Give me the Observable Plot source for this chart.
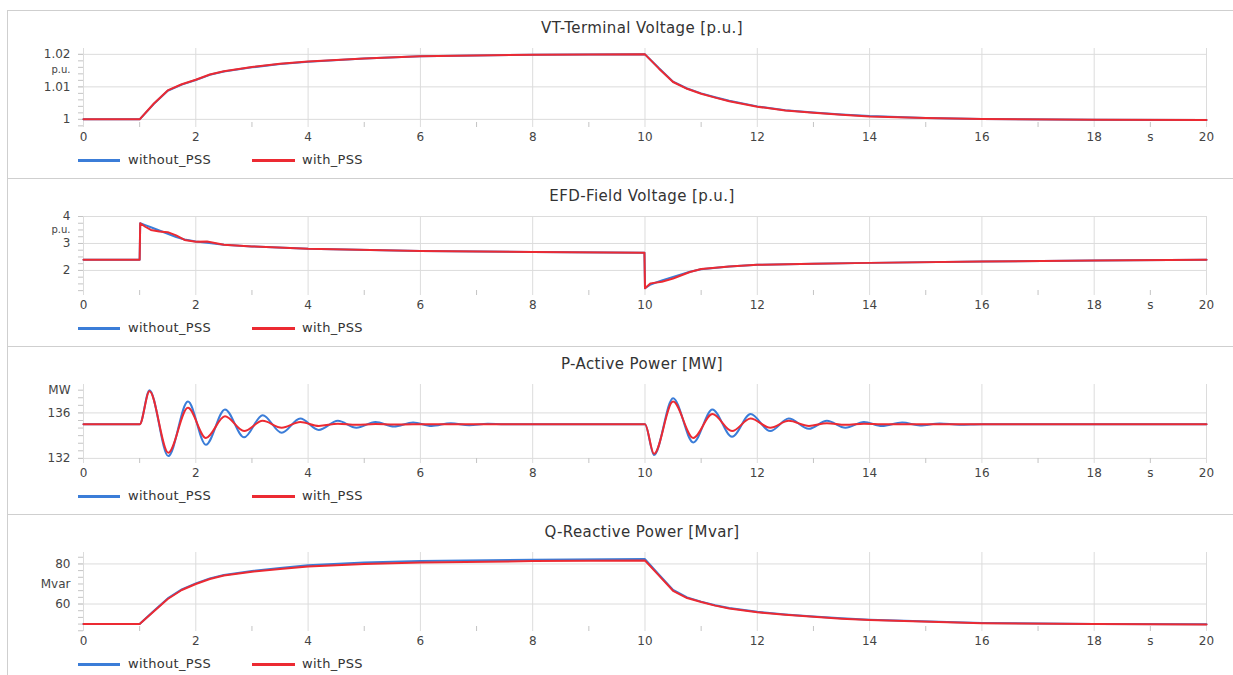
<!DOCTYPE html>
<html><head><meta charset="utf-8">
<script src="https://cdn.jsdelivr.net/npm/d3@7"></script>
<script src="https://cdn.jsdelivr.net/npm/@observablehq/plot@0.6"></script>
<style>
body{margin:0;background:#fff;font-family:"DejaVu Sans",Verdana,sans-serif;}
#root{position:relative;width:1233px;height:675px;overflow:hidden;background:#fff;}
.panel{position:absolute;left:7px;width:1226px;height:167px;border-top:1px solid #cfcfcf;border-left:1px solid #cfcfcf;}
.title{position:absolute;left:392px;width:500px;text-align:center;font-size:15px;letter-spacing:0.4px;line-height:18px;color:#333;}
.leg-line{position:absolute;height:3px;}
.leg-text{position:absolute;font-size:13px;letter-spacing:0.3px;line-height:16px;color:#333;}
.chart{position:absolute;left:0;}
.chart svg{overflow:visible;}
</style>
</head><body><div id="root"></div>
<script>
// ---------- data ----------
const seriesNames = ["without_PSS", "with_PSS"];
const seriesColors = ["#3b7dd8", "#ec2a32"];

const xGridTicks = [0, 2, 4, 6, 8, 10, 12, 14, 16, 18, 20];
const xMinorTicks = [1, 3, 5, 7, 9, 11, 13, 15, 17, 19];
const xLabelPos = [0, 2, 4, 6, 8, 10, 12, 14, 16, 18, 19, 20];
const xLabelText = ["0", "2", "4", "6", "8", "10", "12", "14", "16", "18", "s", "20"];

// VT - terminal voltage [p.u.]
const vtTime    = [0, 1, 1.25, 1.5, 1.75, 2, 2.25, 2.5, 3, 3.5, 4, 5, 6, 8, 10, 10.25, 10.5, 10.75, 11, 11.25, 11.5, 12, 12.5, 13, 13.5, 14, 15, 16, 18, 20];
const vtWithout = [1.0, 1.0, 1.0047, 1.0088, 1.0107, 1.0121, 1.0137, 1.0147, 1.0160, 1.0170, 1.0177, 1.0187, 1.0194, 1.0199, 1.0200, 1.0157, 1.0116, 1.0095, 1.0080, 1.0068, 1.0057, 1.0040, 1.0028, 1.0021, 1.0015, 1.0010, 1.0004, 1.0001, 0.99985, 0.9998];
const vtWith    = [1.0, 1.0, 1.0048, 1.0089, 1.0108, 1.0122, 1.0138, 1.0148, 1.0161, 1.0171, 1.0178, 1.0187, 1.0194, 1.0199, 1.0200, 1.0156, 1.0115, 1.0094, 1.0079, 1.0067, 1.0056, 1.0039, 1.0027, 1.0020, 1.0014, 1.0009, 1.0004, 1.0001, 0.99985, 0.9998];
const vtTicks = [1, 1.01, 1.02];

// EFD - field voltage [p.u.]
const efdTime    = [0, 1, 1.01, 1.1, 1.2, 1.35, 1.5, 1.65, 1.8, 2, 2.2, 2.5, 3, 4, 6, 8, 9.99, 10.0, 10.1, 10.3, 10.5, 10.8, 11, 11.5, 12, 13, 14, 16, 18, 20];
const efdWithout = [2.4, 2.4, 3.75, 3.68, 3.6, 3.48, 3.36, 3.24, 3.15, 3.07, 3.03, 2.95, 2.89, 2.80, 2.72, 2.68, 2.66, 1.34, 1.48, 1.63, 1.76, 1.95, 2.04, 2.15, 2.21, 2.25, 2.28, 2.33, 2.37, 2.40];
const efdWith    = [2.4, 2.4, 3.75, 3.62, 3.50, 3.44, 3.42, 3.30, 3.13, 3.06, 3.07, 2.95, 2.89, 2.80, 2.72, 2.68, 2.66, 1.34, 1.52, 1.58, 1.70, 1.94, 2.05, 2.15, 2.21, 2.25, 2.28, 2.33, 2.37, 2.40];
const efdTicks = [2, 3, 4];

// P - active power [MW]
const pTime    = [0, 1.0, 1.175, 1.51, 1.86, 2.18, 2.52, 2.86, 3.19, 3.53, 3.86, 4.19, 4.53, 4.86, 5.2, 5.53, 5.87, 6.2, 6.54, 6.87, 7.2, 7.5, 8, 10.0, 10.16, 10.5, 10.86, 11.2, 11.55, 11.88, 12.23, 12.56, 12.92, 13.24, 13.57, 13.9, 14.22, 14.58, 14.9, 15.25, 15.6, 16, 20];
const pWithout = [135, 135, 138.0, 132.2, 137.0, 133.2, 136.3, 133.85, 135.8, 134.25, 135.5, 134.5, 135.3, 134.7, 135.2, 134.8, 135.15, 134.85, 135.1, 134.92, 135.05, 135, 135, 135, 132.3, 137.3, 133.4, 136.3, 133.9, 135.9, 134.4, 135.5, 134.6, 135.3, 134.7, 135.2, 134.85, 135.15, 134.9, 135.08, 134.95, 135, 135];
const pWith    = [135, 135, 137.9, 132.5, 136.45, 133.8, 135.7, 134.4, 135.3, 134.7, 135.2, 134.85, 135.05, 134.95, 135.02, 134.98, 135, 135, 135, 135, 135, 135, 135, 135, 132.4, 137.0, 133.8, 135.9, 134.4, 135.5, 134.7, 135.3, 134.85, 135.1, 134.95, 135.05, 135, 135, 135, 135, 135, 135, 135];
const pTicks = [132, 136];

// Q - reactive power [Mvar]
const qTime    = [0, 1, 1.25, 1.5, 1.75, 2, 2.25, 2.5, 3, 3.5, 4, 5, 6, 8, 10, 10.25, 10.5, 10.75, 11, 11.25, 11.5, 12, 12.5, 13, 13.5, 14, 16, 18, 20];
const qWithout = [50, 50, 56.5, 62.8, 67.3, 70.3, 72.8, 74.5, 76.5, 78.0, 79.3, 80.7, 81.4, 82.1, 82.4, 74.6, 67.0, 63.3, 61.2, 59.4, 58.0, 56.1, 54.8, 53.8, 52.9, 52.2, 50.6, 50.1, 49.9];
const qWith    = [50, 50, 56.3, 62.5, 67.0, 70.0, 72.5, 74.2, 76.1, 77.5, 78.7, 80.0, 80.7, 81.4, 81.7, 74.2, 66.6, 63.0, 61.0, 59.2, 57.8, 55.9, 54.6, 53.6, 52.7, 52.0, 50.4, 50.0, 49.8];
const qTicks = [60, 80];

// ---------- panels ----------
const panels = [
  {title: "VT-Terminal Voltage [p.u.]", top: 10, time: vtTime, series: [vtWithout, vtWith], yDomain: [0.9975, 1.0218], ticks: vtTicks, minorStep: 0.002, unit: "p.u.", unitAt: 1.0152, unitSize: 10, curve: "linear"},
  {title: "EFD-Field Voltage [p.u.]", top: 178, time: efdTime, series: [efdWithout, efdWith], yDomain: [1.07, 4.0], ticks: efdTicks, minorStep: 0.25, unit: "p.u.", unitAt: 3.52, unitSize: 10, curve: "linear"},
  {title: "P-Active Power [MW]", top: 346, time: pTime, series: [pWithout, pWith], yDomain: [131.55, 138.5], ticks: pTicks, minorStep: 4 / 6, unit: "MW", unitAt: 138.0, unitSize: 12, curve: "monotone-x"},
  {title: "Q-Reactive Power [Mvar]", top: 514, time: qTime, series: [qWithout, qWith], yDomain: [46.3, 85.7], ticks: qTicks, minorStep: 20 / 6, unit: "Mvar", unitAt: 69.7, unitSize: 12, curve: "linear"}
];

const root = document.getElementById("root");
const W = 1233, ML = 78, MR = 27, MT = 8, MB = 20, PH = 79;
const xDomain = [-0.089, 20];
const gridColor = "#dcdcdc", axisColor = "#6a6a6a", textColor = "#444";

function el(cls, css, text) {
  const d = document.createElement("div");
  d.className = cls;
  Object.assign(d.style, css);
  if (text != null) d.textContent = text;
  root.appendChild(d);
  return d;
}

panels.forEach(p => {
  const T = p.top;
  el("panel", {top: T + "px"});
  el("title", {top: (T + 9) + "px"}, p.title);

  const rows = [];
  p.series.forEach((vals, si) => {
    vals.forEach((v, i) => rows.push({t: p.time[i], v, s: seriesNames[si]}));
  });

  const minor = [];
  for (let v = p.ticks[0] - p.minorStep * 20; v <= p.yDomain[1]; v += p.minorStep) {
    if (v >= p.yDomain[0] - 1e-9) minor.push(v);
  }

  const chart = Plot.plot({
    width: W, height: MT + PH + MB,
    marginLeft: ML, marginRight: MR, marginTop: MT, marginBottom: MB,
    style: {fontFamily: '"DejaVu Sans", Verdana, sans-serif', color: textColor, background: "transparent", overflow: "visible"},
    x: {domain: xDomain, label: null},
    y: {domain: p.yDomain, label: null},
    color: {domain: seriesNames, range: seriesColors},
    marks: [
      Plot.gridX(xGridTicks, {stroke: gridColor, strokeOpacity: 1}),
      Plot.gridY(p.ticks, {stroke: gridColor, strokeOpacity: 1}),
      Plot.tickY(minor, {y: d => d, stroke: "#c4c4c4", insetRight: (W - ML - MR) - 5}),
      Plot.tickX(xMinorTicks, {x: d => d, stroke: "#c4c4c4", insetTop: PH - 5}),
      Plot.line(rows, {x: "t", y: "v", z: "s", stroke: "s", strokeWidth: 2, curve: p.curve}),
      Plot.axisX(xLabelPos, {tickSize: 0, tickPadding: 5, fontSize: 12, line: true, label: null, stroke: axisColor, strokeWidth: 1.5,
        tickFormat: d => xLabelText[xLabelPos.indexOf(d)]}),
      Plot.axisY(p.ticks, {tickSize: 0, tickPadding: 8, fontSize: 12, line: true, label: null, stroke: axisColor, strokeWidth: 1.5,
        tickFormat: d => String(d)}),
      Plot.axisY([p.unitAt], {tickSize: 0, tickPadding: 8, fontSize: p.unitSize, label: null, tickFormat: () => p.unit})
    ]
  });
  const holder = el("chart", {top: (T + 30) + "px"});
  holder.appendChild(chart);

  // legend
  el("leg-line", {top: (T + 149) + "px", left: "78px", width: "42px", background: seriesColors[0]});
  el("leg-text", {top: (T + 142) + "px", left: "128px"}, seriesNames[0]);
  el("leg-line", {top: (T + 149) + "px", left: "252px", width: "43px", background: seriesColors[1]});
  el("leg-text", {top: (T + 142) + "px", left: "302px"}, seriesNames[1]);
});
</script>
</body></html>
